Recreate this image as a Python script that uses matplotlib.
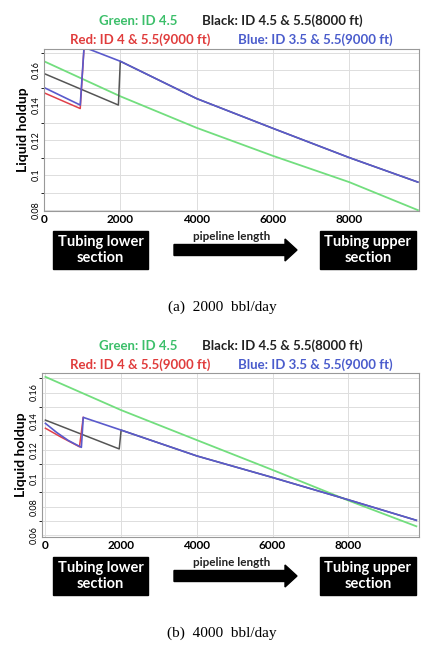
import matplotlib
matplotlib.use('Agg')
import matplotlib.pyplot as plt
from matplotlib.patches import FancyArrow

plt.rcParams['font.family'] = ['Lato', 'DejaVu Sans']

# ---- panel (a) 2000 bbl/day ----
a_green_x = [0, 2000, 4000, 6000, 8000, 9800]
a_green_y = [0.165, 0.145, 0.127, 0.111, 0.096, 0.080]
a_blue_x = [0, 950, 1050, 2000, 4000, 6000, 8000, 9800]
a_blue_y = [0.150, 0.140, 0.173, 0.165, 0.1437, 0.1267, 0.110, 0.096]
a_black_x = [0, 1950, 2000, 4000, 6000, 8000, 9800]
a_black_y = [0.158, 0.140, 0.165, 0.1437, 0.1267, 0.110, 0.096]
a_red_x = [0, 950, 1050]
a_red_y = [0.147, 0.138, 0.173]

# ---- panel (b) 4000 bbl/day ----
b_green_x = [0, 2000, 4000, 6000, 8000, 9800]
b_green_y = [0.171, 0.1477, 0.1267, 0.1058, 0.0844, 0.0663]
b_blue_x = [0, 300, 600, 950, 1000, 2000, 4000, 6000, 8000, 9800]
b_blue_y = [0.1384, 0.132, 0.1265, 0.1216, 0.1426, 0.1337, 0.1156, 0.1005, 0.0849, 0.0705]
b_black_x = [0, 1950, 2000, 4000, 6000, 8000, 9800]
b_black_y = [0.1407, 0.1205, 0.1337, 0.1156, 0.1005, 0.0849, 0.0705]
b_red_x = [0, 400, 900, 1000]
b_red_y = [0.135, 0.129, 0.122, 0.1426]

GREEN = '#72de7e'
BLACK = '#555555'
RED = '#e0404a'
BLUE = '#5a5acc'

W, H = 443, 645
fig = plt.figure(figsize=(W / 100, H / 100), dpi=100)


def px(x, y):
    return x / W, 1 - y / H


def panel(top, bottom, left, right, xlim, ylim, yticks, data, ytop, boxy, capy, caption):
    ax = fig.add_axes([left / W, 1 - bottom / H, (right - left) / W, (bottom - top) / H])
    gx, gy, bkx, bky, rx, ry, blx, bly = data
    ax.plot(gx, gy, color=GREEN, lw=1.3)
    ax.plot(bkx, bky, color=BLACK, lw=1.1)
    ax.plot(rx, ry, color=RED, lw=1.1)
    ax.plot(blx, bly, color=BLUE, lw=1.2)
    ax.set_xlim(*xlim)
    ax.set_ylim(*ylim)
    ax.set_xticks([0, 2000, 4000, 6000, 8000])
    ax.set_xticklabels(['0', '2000', '4000', '6000', '8000'], fontweight='bold', fontsize=8.5)
    ax.set_yticks(yticks)
    ax.set_yticklabels([('%g' % t) for t in yticks], rotation=90, fontsize=6.5, va='center')
    ax.set_yticks([t + 0.01 for t in yticks], minor=True)
    ax.tick_params(length=0, pad=2)
    ax.grid(True, which='both', color='#dddddd', lw=0.7)
    for s in ax.spines.values():
        s.set_color('#999999')
    ax.set_ylabel('Liquid holdup', fontweight='bold', fontsize=10, labelpad=2)

    # colored title pieces
    fs = 9.5
    fig.text(*px(138, ytop), 'Green: ID 4.5', color='#3cbf6a', ha='center', va='center', fontsize=fs, fontweight='bold')
    fig.text(*px(282, ytop), 'Black: ID 4.5 & 5.5(8000 ft)', color='#222222', ha='center', va='center', fontsize=fs, fontweight='bold')
    fig.text(*px(140, ytop + 19), 'Red: ID 4 & 5.5(9000 ft)', color='#e03c3c', ha='center', va='center', fontsize=fs, fontweight='bold')
    fig.text(*px(315, ytop + 19), 'Blue: ID 3.5 & 5.5(9000 ft)', color='#4a5ccc', ha='center', va='center', fontsize=fs, fontweight='bold')

    # boxes and arrow
    for x0, x1, label in [(51, 150, 'Tubing lower\nsection'), (317, 419, 'Tubing upper\nsection')]:
        fig.text(*px((x0 + x1) / 2, boxy), label, color='white', ha='center', va='center',
                 fontsize=10.5, fontweight='bold', linespacing=1.15,
                 bbox=dict(boxstyle='square,pad=0.3', fc='black', ec='black'))
    x0, y0 = px(174, boxy)
    x1, _ = px(297, boxy)
    fig.patches.append(FancyArrow(x0, y0, x1 - x0, 0, width=11 / H, head_width=22 / H,
                                  head_length=12 / W, length_includes_head=True,
                                  color='black', transform=fig.transFigure))
    fig.text(*px(232, boxy - 13), 'pipeline length', ha='center', va='center', fontsize=8.5, fontweight='bold', color='#222222')
    fig.text(*px(222, capy), caption, ha='center', va='center', fontsize=11, family='Liberation Serif')


panel(49, 211, 44, 419, (0, 9830), (0.0795, 0.172), [0.08, 0.1, 0.12, 0.14, 0.16],
      (a_green_x, a_green_y, a_black_x, a_black_y, a_red_x, a_red_y, a_blue_x, a_blue_y),
      21, 250, 307, '(a)  2000  bbl/day')
panel(373, 537, 42, 419, (-90, 9870), (0.0588, 0.1737), [0.06, 0.08, 0.1, 0.12, 0.14, 0.16],
      (b_green_x, b_green_y, b_black_x, b_black_y, b_red_x, b_red_y, b_blue_x, b_blue_y),
      346, 576, 633, '(b)  4000  bbl/day')

fig.savefig('out.png', dpi=100)
